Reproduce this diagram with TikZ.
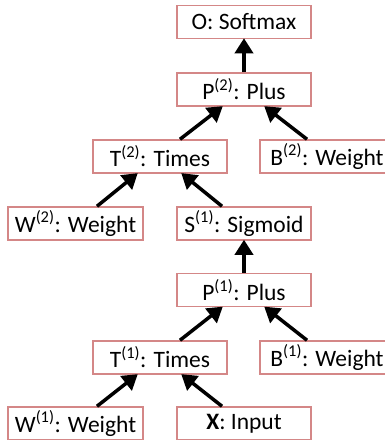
\documentclass[tikz,border=0pt]{standalone}
\usepackage{fontspec}
\setmainfont{Carlito}
\usetikzlibrary{arrows.meta}
\definecolor{boxred}{RGB}{212,135,135}
\tikzset{
  opbox/.style={draw=boxred, line width=1.5pt, fill=white, minimum width=134pt, minimum height=33pt, inner sep=0pt, font=\fontsize{23.5}{26}\selectfont},
  flow/.style={line width=3.5pt, -{Triangle[length=15pt,width=18pt]}, shorten >=-1pt}
}
\begin{document}
\begin{tikzpicture}[x=1pt,y=-1pt]
\useasboundingbox (0,0) rectangle (385,440);
\clip (0,0) rectangle (385,440);
\node[opbox] (O) at (244,22) {O: Softmax};
\node[opbox] (P2) at (244,89.5) {P\textsuperscript{(2)}: Plus};
\node[opbox] (T2) at (160,156.5) {T\textsuperscript{(2)}: Times};
\node[opbox] (B2) at (327,156.5) {B\textsuperscript{(2)}: Weight};
\node[opbox, minimum width=135pt] (W2) at (75.5,223.5) {W\textsuperscript{(2)}: Weight};
\node[opbox] (S1) at (244,223.5) {S\textsuperscript{(1)}: Sigmoid};
\node[opbox] (P1) at (244,290) {P\textsuperscript{(1)}: Plus};
\node[opbox] (T1) at (160,357.5) {T\textsuperscript{(1)}: Times};
\node[opbox] (B1) at (327,357.5) {B\textsuperscript{(1)}: Weight};
\node[opbox, minimum width=135pt] (W1) at (75.5,423.5) {W\textsuperscript{(1)}: Weight};
\node[opbox] (X) at (244,423.5) {\textbf{X}: Input};
\draw[flow] (P2.north) -- (O.south);
\draw[flow] ([xshift=20pt]T2.north) -- ([xshift=-22pt]P2.south);
\draw[flow] ([xshift=-20pt]B2.north) -- ([xshift=21pt]P2.south);
\draw[flow] ([xshift=21.5pt]W2.north) -- ([xshift=-23pt]T2.south);
\draw[flow] ([xshift=-22pt]S1.north) -- ([xshift=22pt]T2.south);
\draw[flow] (P1.north) -- (S1.south);
\draw[flow] ([xshift=20pt]T1.north) -- ([xshift=-22pt]P1.south);
\draw[flow] ([xshift=-20pt]B1.north) -- ([xshift=21pt]P1.south);
\draw[flow] ([xshift=21.5pt]W1.north) -- ([xshift=-23pt]T1.south);
\draw[flow] ([xshift=-22pt]X.north) -- ([xshift=22pt]T1.south);
\end{tikzpicture}
\end{document}
